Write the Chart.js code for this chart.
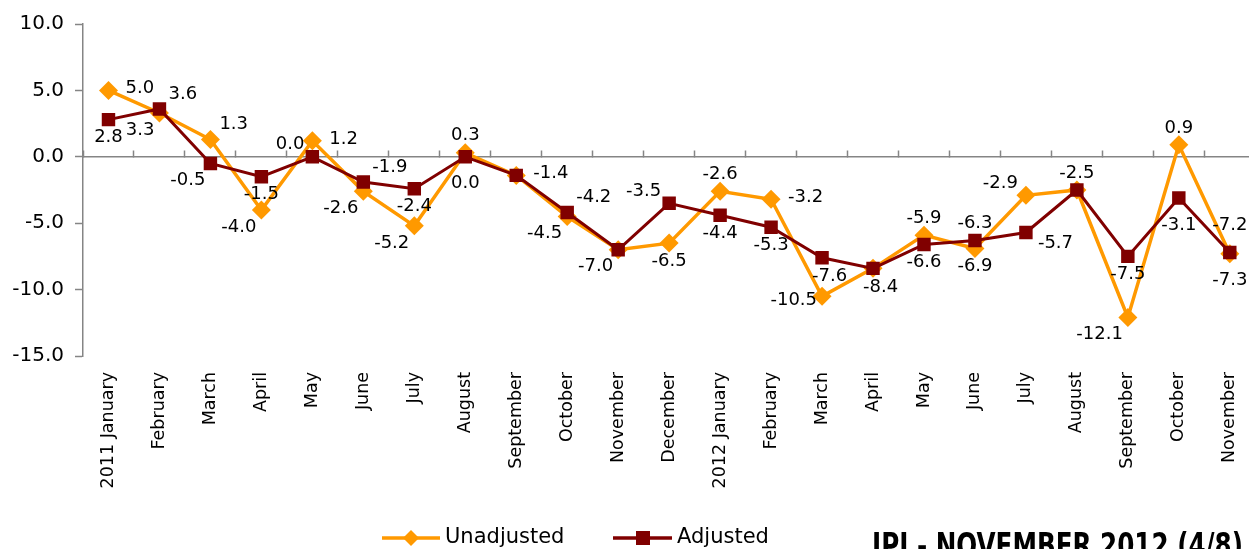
<!DOCTYPE html>
<html>
<head>
<meta charset="utf-8">
<script src="https://cdn.jsdelivr.net/npm/chart.js@4.4.1/dist/chart.umd.min.js"></script>
<style>
  html, body { margin: 0; padding: 0; overflow: hidden; background: #fff; }
  #wrap { position: relative; width: 1267px; height: 549px; }
</style>
</head>
<body>
<div id="wrap"><canvas id="ipi"></canvas></div>
<script>
// IPI month-on-month change, Jan 2011 - Nov 2012
const months = ['2011 January', 'February', 'March', 'April', 'May', 'June', 'July', 'August',
  'September', 'October', 'November', 'December', '2012 January', 'February', 'March', 'April',
  'May', 'June', 'July', 'August', 'September', 'October', 'November'];
const unadjusted = [5.0, 3.3, 1.3, -4.0, 1.2, -2.6, -5.2, 0.3, -1.4, -4.5, -7.0, -6.5,
  -2.6, -3.2, -10.5, -8.4, -5.9, -6.9, -2.9, -2.5, -12.1, 0.9, -7.3];
const adjusted = [2.8, 3.6, -0.5, -1.5, 0.0, -1.9, -2.4, 0.0, -1.4, -4.2, -7.0, -3.5,
  -4.4, -5.3, -7.6, -8.4, -6.6, -6.3, -5.7, -2.5, -7.5, -3.1, -7.2];
const yTicks = [-15, -10, -5, 0, 5, 10];

// where each value label sits next to its point ('-' = shared with the other series)
const unadjustedLabelPos = ['r', 'bl', 'ar', 'bl', 'r', 'bl', 'bl', 'a', 'r', 'bl', 'bl', 'b',
  'a', 'r', 'l', 'br', 'a', 'b', 'al', 'a', 'bl', 'a', 'b2'];
const adjustedLabelPos = ['b', 'ar', 'bl', 'b', 'al', 'ar', 'b', 'b2', '-', 'ar', '-', 'al',
  'b', 'b', 'br', '-', 'b', 'a', 'rb', '-', 'b', 'b2', 'a2'];

const ORANGE = '#FF9900';
const MAROON = '#800000';
const AXIS = '#858585';
const FONT = 'DejaVu Sans';

const POS = {
  r:  { dx: 17, dy: -2, align: 'left' },
  rb: { dx: 12, dy: 11, align: 'left' },
  ar: { dx: 9, dy: -15, align: 'left' },
  a:  { dx: 0, dy: -17, align: 'center' },
  a2: { dx: 0, dy: -27, align: 'center' },
  al: { dx: -8, dy: -12, align: 'right' },
  l:  { dx: -5, dy: 4, align: 'right' },
  bl: { dx: -5, dy: 17, align: 'right' },
  b:  { dx: 0, dy: 18, align: 'center' },
  b2: { dx: 0, dy: 27, align: 'center' },
  br: { dx: -10, dy: 19, align: 'left' }
};

const valueLabels = {
  id: 'valueLabels',
  afterDatasetsDraw(chart) {
    const ctx = chart.ctx;
    const placements = [unadjustedLabelPos, adjustedLabelPos];
    ctx.save();
    ctx.font = '18px "' + FONT + '"';
    ctx.fillStyle = '#000';
    ctx.textBaseline = 'middle';
    chart.data.datasets.forEach((ds, di) => {
      const meta = chart.getDatasetMeta(di);
      meta.data.forEach((pt, i) => {
        const p = POS[placements[di][i]];
        if (!p) return;
        ctx.textAlign = p.align;
        ctx.fillText(ds.data[i].toFixed(1), pt.x + p.dx, pt.y + p.dy);
      });
    });
    ctx.restore();
  }
};

const legendAndTitle = {
  id: 'legendAndTitle',
  afterDraw(chart) {
    const ctx = chart.ctx;
    const y = 538;
    ctx.save();
    // Unadjusted
    ctx.strokeStyle = ORANGE;
    ctx.lineWidth = 3.5;
    ctx.beginPath(); ctx.moveTo(382, y); ctx.lineTo(440, y); ctx.stroke();
    ctx.fillStyle = ORANGE;
    ctx.beginPath();
    ctx.moveTo(411, y - 8); ctx.lineTo(419, y); ctx.lineTo(411, y + 8); ctx.lineTo(403, y);
    ctx.closePath(); ctx.fill();
    // Adjusted
    ctx.strokeStyle = MAROON;
    ctx.beginPath(); ctx.moveTo(613, y); ctx.lineTo(672, y); ctx.stroke();
    ctx.fillStyle = MAROON;
    ctx.fillRect(636, y - 7, 14, 14);

    ctx.fillStyle = '#000';
    ctx.font = '21px "' + FONT + '"';
    ctx.textBaseline = 'middle';
    ctx.textAlign = 'left';
    ctx.fillText('Unadjusted', 445, y);
    ctx.fillText('Adjusted', 677, y);

    // slide title, cut by the bottom edge
    const title = 'IPI - NOVEMBER 2012 (4/8)';
    ctx.font = 'bold 34px "Liberation Sans Narrow", "DejaVu Sans Condensed", sans-serif';
    ctx.textBaseline = 'alphabetic';
    const w = ctx.measureText(title).width;
    ctx.translate(872, 557);
    ctx.scale(371 / w, 1);
    ctx.fillText(title, 0, 0);
    ctx.restore();
  }
};

new Chart(document.getElementById('ipi'), {
  type: 'line',
  data: {
    labels: months,
    datasets: [
      {
        label: 'Unadjusted',
        data: unadjusted,
        borderColor: ORANGE,
        backgroundColor: ORANGE,
        borderWidth: 3.5,
        pointStyle: 'rectRot',
        pointRadius: 9.5,
        pointBorderWidth: 0,
        tension: 0,
        order: 1
      },
      {
        label: 'Adjusted',
        data: adjusted,
        borderColor: MAROON,
        backgroundColor: MAROON,
        borderWidth: 3,
        pointStyle: 'rect',
        pointRadius: 9.5,
        pointBorderWidth: 0,
        tension: 0,
        order: 0
      }
    ]
  },
  options: {
    responsive: true,
    maintainAspectRatio: false,
    animation: false,
    layout: { padding: { top: 24, right: 0, bottom: 0, left: 0 } },
    plugins: {
      legend: { display: false },
      tooltip: { enabled: false }
    },
    scales: {
      x: {
        type: 'category',
        offset: true,
        position: { y: 0 },
        grid: { offset: true, drawOnChartArea: false, tickLength: -7, color: AXIS, tickWidth: 1.5 },
        border: { color: AXIS, width: 1.5 },
        ticks: { display: false }
      },
      x2: {
        type: 'category',
        labels: months,
        offset: true,
        position: 'bottom',
        grid: { display: false, drawTicks: false },
        border: { display: false },
        ticks: {
          autoSkip: false,
          minRotation: 90,
          maxRotation: 90,
          padding: 16,
          color: '#000',
          font: { family: FONT, size: 17.5 }
        },
        afterFit(scale) { scale.height = 193; }
      },
      y: {
        min: -15,
        max: 10,
        afterBuildTicks(axis) { axis.ticks = yTicks.map(v => ({ value: v })); },
        grid: { drawOnChartArea: false, tickLength: 8, color: AXIS, tickWidth: 1.5 },
        border: { color: AXIS, width: 1.5 },
        ticks: {
          padding: 11,
          color: '#000',
          font: { family: FONT, size: 20 },
          callback: v => v.toFixed(1)
        },
        afterFit(scale) { scale.width = 83; }
      }
    }
  },
  plugins: [valueLabels, legendAndTitle]
});
</script>
</body>
</html>
